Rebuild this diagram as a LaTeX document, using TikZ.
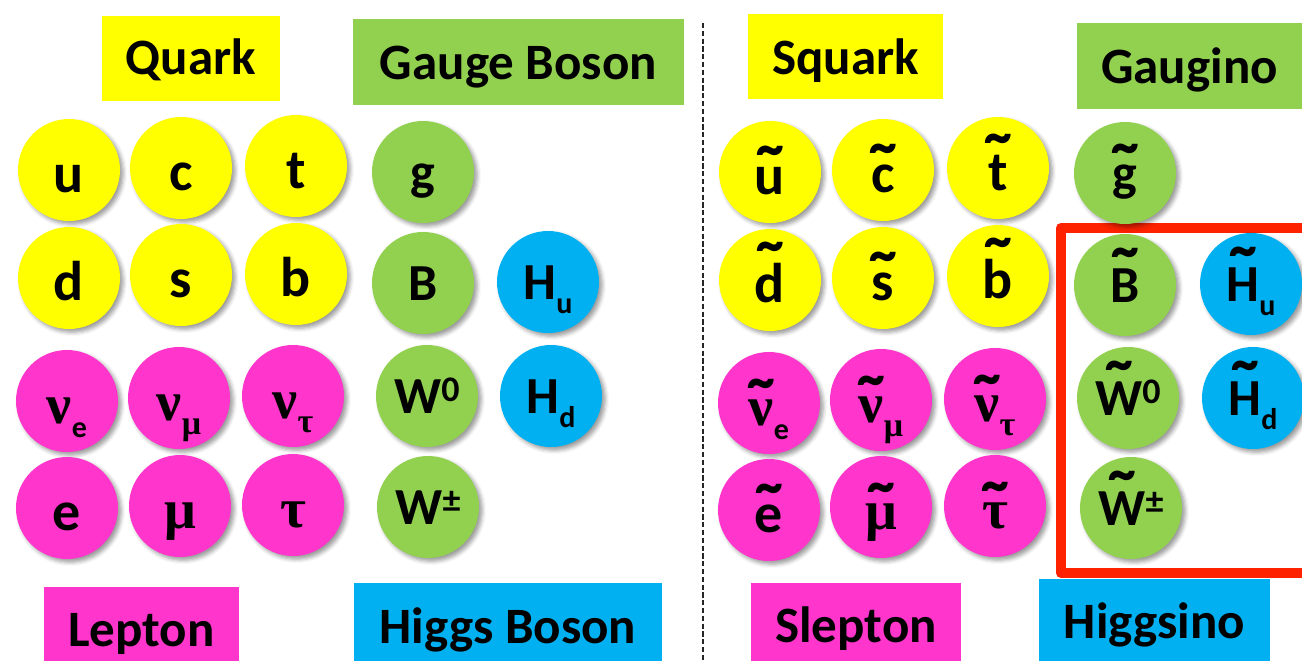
\documentclass[tikz,border=0pt]{standalone}
\usepackage{fontspec}
\setmainfont{Carlito}
\newfontfamily\grk{Liberation Serif}
\usetikzlibrary{shadows.blur}

\definecolor{quarkyellow}{HTML}{FFFF00}
\definecolor{bosongreen}{HTML}{92D050}
\definecolor{leptonpink}{HTML}{FF35CC}
\definecolor{higgsblue}{HTML}{00B0F0}
\definecolor{framered}{HTML}{FF2200}

\newcommand\gk[1]{{\grk\fontsize{28pt}{30pt}\selectfont #1}}
\newcommand\lowidx[1]{\raisebox{-7pt}{\fontsize{15pt}{16pt}\selectfont #1}}
\newcommand\lowgk[1]{\raisebox{-7pt}{\grk\fontsize{17pt}{18pt}\selectfont #1}}
\newcommand\hiidx[1]{\raisebox{6pt}{\fontsize{18pt}{20pt}\selectfont #1}}
\newcommand\stil[1]{\leavevmode\setbox0\hbox{#1}%
  \setbox1\hbox{\fontsize{28pt}{30pt}\selectfont\scalebox{1.5}[1.4]{\char"02DC}}%
  \rlap{\hbox to\wd0{\hss\raisebox{\dimexpr\ht0-16.5pt\relax}{\box1}\hss}}\box0}

\begin{document}
\begin{tikzpicture}[x=0.5pt, y=-0.5pt, line join=round,
    ball/.style={circle, minimum size=51pt, inner sep=0pt, text height=23pt, text depth=1pt,
      font=\bfseries\fontsize{28pt}{30pt}\selectfont,
      blur shadow={shadow xshift=1.6pt, shadow yshift=-1.6pt, shadow blur radius=2pt, shadow opacity=40}},
    capball/.style={ball, text height=18pt, font=\bfseries\fontsize{26pt}{28pt}\selectfont},
    tag/.style={rectangle, anchor=north, inner sep=0pt, font=\bfseries\fontsize{25.5pt}{28pt}\selectfont},
    sepline/.style={draw=black!85, line width=1.4pt, dash pattern=on 2.6pt off 1.3pt},
    frame/.style={draw=framered, line width=5pt}]
  \useasboundingbox (0,0) rectangle (1302,660);
  \clip (0,0) rectangle (1302,660);

  \path
  (703,23) coordinate (septop)
  (703,660) coordinate (sepbot)
  (1061,228) coordinate (frametl)
  (1340,573) coordinate (framebr);

  \draw[sepline] (septop) -- (sepbot);
  \draw[frame] (frametl) rectangle (framebr);

  \node[tag, fill=quarkyellow, minimum width=89pt, text height=29pt, text depth=13.5pt] (quarklab) at (191,16) {Quark};
  \node[tag, fill=bosongreen, minimum width=165.5pt, text height=30pt, text depth=13pt] (gaugelab) at (518.5,19) {Gauge Boson};
  \node[tag, fill=leptonpink, minimum width=97.5pt, text height=29.5pt, text depth=30pt] (leptonlab) at (141.5,587) {Lepton};
  \node[tag, fill=higgsblue, minimum width=154pt, text height=30pt, text depth=30pt] (higgslab) at (508,583) {Higgs Boson};
  \node[tag, fill=quarkyellow, minimum width=97.5pt, text height=30pt, text depth=12.5pt] (squarklab) at (845.5,14) {Squark};
  \node[tag, fill=bosongreen, minimum width=112.5pt, text height=30pt, text depth=13pt] (gauginolab) at (1189.5,23) {Gaugino};
  \node[tag, fill=leptonpink, minimum width=105pt, text height=29.5pt, text depth=30pt] (sleptonlab) at (856,583) {Slepton};
  \node[tag, fill=higgsblue, minimum width=115.5pt, text height=29.5pt, text depth=30pt] (higgsinolab) at (1154.5,579) {Higgsino};

  \foreach \n/\x/\y/\lab in {u/69/170/u, c/181/168/c, t/296/166/t, d/69/278/d, s/181/275/s, b/296/274/b,
      su/770/172/{\stil{u}}, sc/883/170/{\stil{c}}, st/998/168/{\stil{t}},
      sd/770/280/{\stil{d}}, ss/883/278/{\stil{s}}, sb/998/276/{\stil{b}}}
  \node[ball, fill=quarkyellow] (\n) at (\x,\y) {\lab};

  \foreach \n/\x/\y/\lab in {nue/67/401/{\gk{ν}\lowidx{e}}, numu/179/398/{\gk{ν}\lowgk{μ}}, nutau/293/396/{\gk{ν}\lowgk{τ}},
      e/67/508/e, mu/180/506/{\gk{μ}}, tau/293/505/{\gk{τ}},
      snue/769/403/{\stil{\gk{ν}}\lowidx{e}}, snumu/881/400/{\stil{\gk{ν}}\lowgk{μ}}, snutau/995/399/{\stil{\gk{ν}}\lowgk{τ}},
      se/769/510/{\stil{e}}, smu/881/507/{\stil{\gk{μ}}}, stau/995/506/{\stil{\gk{τ}}}}
  \node[ball, fill=leptonpink] (\n) at (\x,\y) {\lab};

  \foreach \n/\x/\y/\lab in {g/423/172/g, B/423/283/B, W0/427/396/{W\hiidx{0}}, Wpm/428/507/{W\hiidx{±}},
      sg/1125/173/{\stil{g}}, sB/1125/285/{\stil{B}}, sW0/1128/398/{\stil{W}\hiidx{0}}, sWpm/1131/508/{\stil{W}\hiidx{±}}}
  \node[capball, fill=bosongreen] (\n) at (\x,\y) {\lab};

  \foreach \n/\x/\y/\lab in {Hu/548/282/{H\lowidx{u}}, Hd/551/396/{H\lowidx{d}},
      sHu/1251/284/{\stil{H}\lowidx{u}}, sHd/1253/398/{\stil{H}\lowidx{d}}}
  \node[capball, fill=higgsblue] (\n) at (\x,\y) {\lab};
\end{tikzpicture}
\end{document}
